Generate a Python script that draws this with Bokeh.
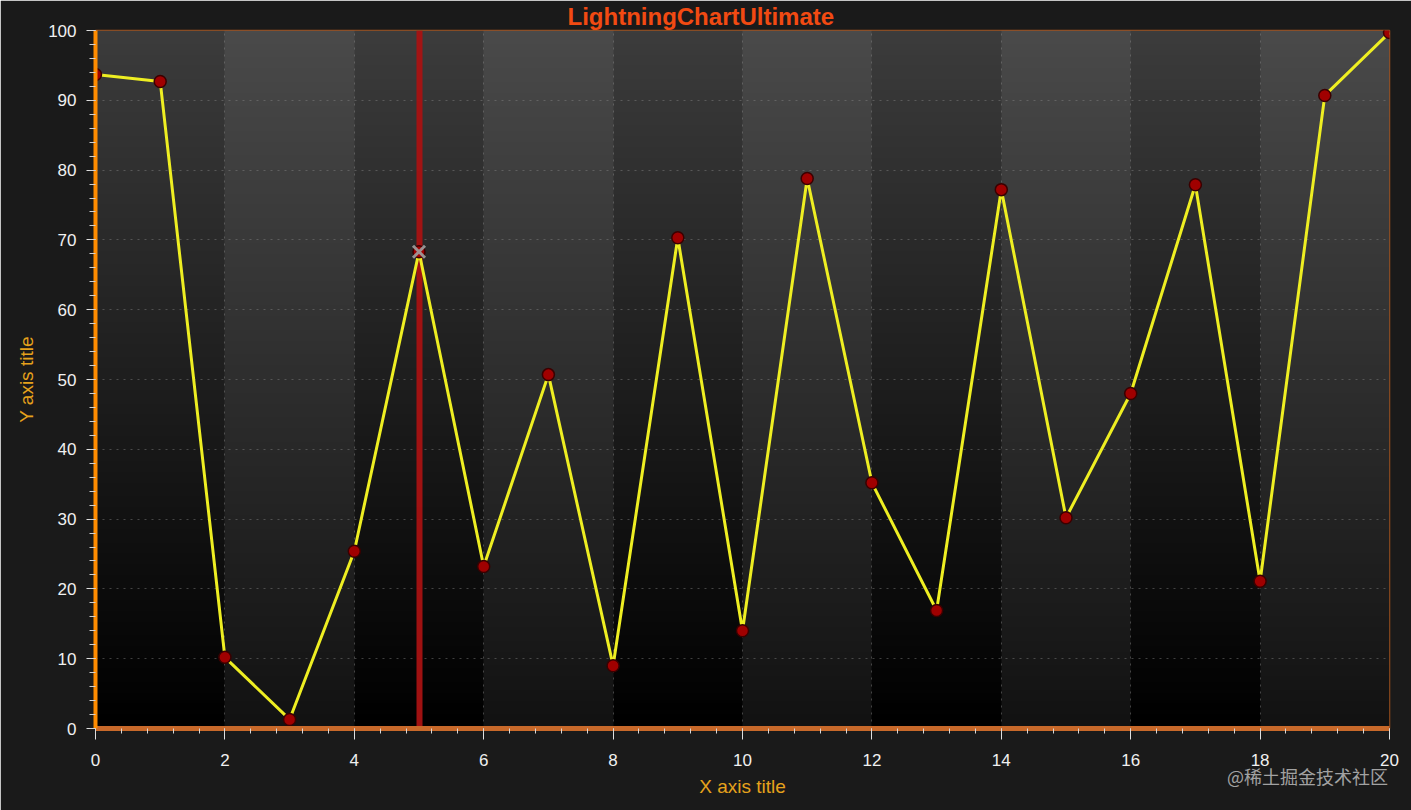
import numpy as np
from bokeh.plotting import figure
from bokeh.models import Range1d, SingleIntervalTicker
from bokeh.embed import file_html
from bokeh.resources import INLINE

# ---- data ----
x_values = [0, 1, 2, 3, 4, 5, 6, 7, 8, 9, 10, 11, 12, 13, 14, 15, 16, 17, 18, 19, 20]
y_values = [93.7, 92.7, 10.2, 1.3, 25.4, 68.3, 23.2, 50.7, 9.0, 70.3, 14.0, 78.8,
            35.2, 16.9, 77.2, 30.2, 48.0, 77.9, 21.1, 90.7, 99.7]
cursor_x = [5]
cursor_y = [68.3]
title_text = "LightningChartUltimate"
x_title = "X axis title"
y_title = "Y axis title"
watermark = "@稀土掘金技术社区"

FONT = "Liberation Sans"

p = figure(width=1411, height=810, output_backend="svg", toolbar_location=None,
           x_range=Range1d(0, 20), y_range=Range1d(0, 100),
           min_border_left=95, min_border_right=22, min_border_top=30, min_border_bottom=82)
p.background_fill_color = "#000000"
p.border_fill_color = "#1a1a1a"
p.outline_line_color = "#a0521e"
p.outline_line_width = 1.5

# ---- title ----
p.title.text = title_text
p.title.align = "left"
p.title.offset = 472
p.title.standoff = 1
p.title.text_color = "#f24a12"
p.title.text_font = FONT
p.title.text_font_size = "24px"
p.title.text_font_style = "bold"

# ---- banded gradient background (decoration) ----
rows = 256
cols = 10
img = np.zeros((rows, cols), dtype=np.uint32)
view = img.view(dtype=np.uint8).reshape((rows, cols, 4))
t = np.linspace(0.0, 1.0, rows)  # 0 bottom, 1 top
for c in range(cols):
    if c % 2 == 0:
        bottom, top = 0, 60
    else:
        bottom, top = 18, 74
    v = (bottom + (top - bottom) * t).astype(np.uint8)
    view[:, c, 0] = v
    view[:, c, 1] = v
    view[:, c, 2] = v
    view[:, c, 3] = 255
p.image_rgba(image=[img], x=0, y=0, dw=20, dh=100, level="image")

# ---- grid ----
for g in (p.xgrid, p.ygrid):
    g.grid_line_color = "#8a8a8a"
    g.grid_line_alpha = 0.45
    g.grid_line_dash = "2 5"
    g.grid_line_width = 1
p.xaxis.ticker = SingleIntervalTicker(interval=2, num_minor_ticks=5)
p.yaxis.ticker = SingleIntervalTicker(interval=10, num_minor_ticks=5)

# ---- cursor ----
p.vspan(x=cursor_x, line_color="#a81212", line_width=6, line_alpha=0.95)

# ---- series ----
p.line(x_values, y_values, line_color="#eeee22", line_width=3)
p.scatter(x_values, y_values, size=12, fill_color="#a00000", line_color="#3a0000", line_width=1.5)
p.scatter(cursor_x, cursor_y, marker="x", size=17, line_color="#a0a0a0", line_width=3, line_alpha=0.9)

# ---- axes ----
xa = p.xaxis[0]
xa.axis_line_color = "#c8692a"
xa.axis_line_width = 5
xa.major_tick_line_color = "#e0e0e0"
xa.major_tick_out = 11
xa.major_tick_in = 0
xa.minor_tick_line_color = "#d8d8d8"
xa.minor_tick_out = 5
xa.minor_tick_in = 0
xa.major_label_text_color = "#f0f0f0"
xa.major_label_text_font = FONT
xa.major_label_text_font_size = "17px"
xa.major_label_standoff = 14
xa.axis_label = x_title
xa.axis_label_text_color = "#e6a21c"
xa.axis_label_text_font = FONT
xa.axis_label_text_font_size = "19px"
xa.axis_label_text_font_style = "normal"
xa.axis_label_standoff = 7

ya = p.yaxis[0]
ya.axis_line_color = "#ff8c00"
ya.axis_line_width = 4
ya.major_tick_line_color = "#e0e0e0"
ya.major_tick_out = 9
ya.major_tick_in = 0
ya.minor_tick_line_color = "#d0d0d0"
ya.minor_tick_out = 6
ya.minor_tick_in = 0
ya.major_label_text_color = "#f0f0f0"
ya.major_label_text_font = FONT
ya.major_label_text_font_size = "17px"
ya.major_label_standoff = 10
ya.axis_label = y_title
ya.axis_label_text_color = "#e6a21c"
ya.axis_label_text_font = FONT
ya.axis_label_text_font_size = "19px"
ya.axis_label_text_font_style = "normal"
ya.axis_label_standoff = 8

html = file_html(p, INLINE)
html = html.replace("<body>", '<body style="background:#1a1a1a;">', 1)
wm_div = ('<div style="position:absolute;right:23px;top:767px;font-family:\'Noto Sans CJK SC\';'
          'font-size:18px;line-height:18px;color:#c4c4c4;opacity:0.8;white-space:nowrap;'
          'pointer-events:none;z-index:10;">' + watermark + '</div>')
html = html.replace("</body>", wm_div + "</body>", 1)
open("out.html", "w").write(html)
